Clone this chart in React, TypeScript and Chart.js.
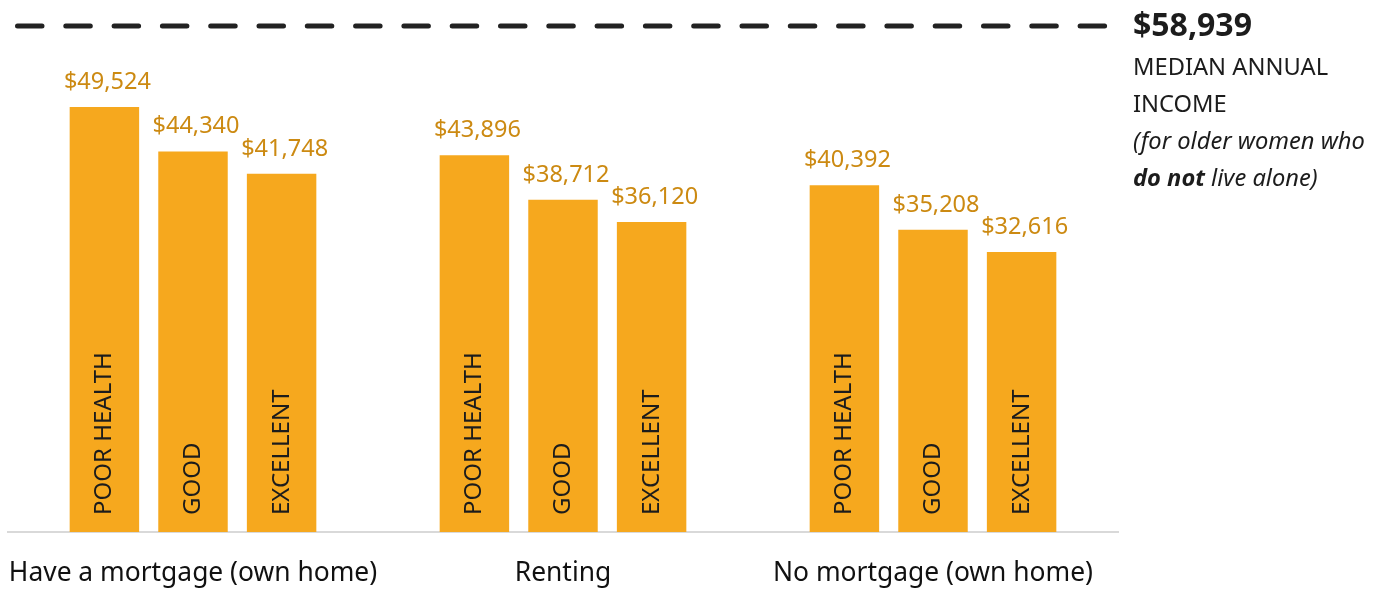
import React, { useEffect, useRef } from "react";
import { Chart, registerables } from "chart.js";

Chart.register(...registerables);

const categories = ["Have a mortgage (own home)", "Renting", "No mortgage (own home)"];
const healthLabels = ["POOR HEALTH", "GOOD", "EXCELLENT"];
const poorHealth = [49524, 43896, 40392];
const good = [44340, 38712, 35208];
const excellent = [41748, 36120, 32616];
const medianIncome = 58939;
const yMax = 60000;

const BAR_COLOR = "#F6A81E";
const VALUE_COLOR = "#CC8A12";
const TEXT_COLOR = "#1c1c1c";
const FONT = '"Noto Sans", sans-serif';

const fmt = (v: number) => "$" + v.toLocaleString("en-US");

const annotPlugin = {
  id: "annot",
  afterDatasetsDraw(chart: any) {
    const ctx = chart.ctx as CanvasRenderingContext2D;
    chart.data.datasets.forEach((ds: any, di: number) => {
      const meta = chart.getDatasetMeta(di);
      meta.data.forEach((bar: any, i: number) => {
        const { x, y, base } = bar.getProps(["x", "y", "base"], true);
        const v = ds.data[i] as number;
        ctx.save();
        ctx.font = `23.5px ${FONT}`;
        ctx.fillStyle = VALUE_COLOR;
        ctx.textAlign = "center";
        ctx.textBaseline = "alphabetic";
        ctx.fillText(fmt(v), x + 3, y - 18);
        ctx.restore();

        ctx.save();
        ctx.translate(x + 7, base - 17);
        ctx.rotate(-Math.PI / 2);
        ctx.font = `24px ${FONT}`;
        ctx.fillStyle = TEXT_COLOR;
        ctx.textAlign = "left";
        ctx.textBaseline = "alphabetic";
        ctx.fillText(healthLabels[di], 0, 0);
        ctx.restore();
      });
    });
  },
  afterDraw(chart: any) {
    const ctx = chart.ctx as CanvasRenderingContext2D;
    const yScale = chart.scales.y;
    const yLine = yScale.getPixelForValue(medianIncome);
    ctx.save();
    ctx.strokeStyle = "#222222";
    ctx.lineWidth = 5;
    ctx.lineCap = "round";
    ctx.setLineDash([24.5, 23.8]);
    ctx.beginPath();
    ctx.moveTo(17.5, yLine);
    ctx.lineTo(1106, yLine);
    ctx.stroke();
    ctx.restore();

    const tx = 1133;
    ctx.save();
    ctx.fillStyle = TEXT_COLOR;
    ctx.textAlign = "left";
    ctx.textBaseline = "alphabetic";
    ctx.font = `bold 32px ${FONT}`;
    ctx.fillText(fmt(medianIncome), tx, yLine + 10);
    ctx.font = `23.7px ${FONT}`;
    ctx.fillText("MEDIAN ANNUAL", tx, 75);
    ctx.fillText("INCOME", tx, 112);
    ctx.font = `italic 23.7px ${FONT}`;
    ctx.fillText("(for older women who", tx, 149);
    ctx.font = `italic bold 23.7px ${FONT}`;
    const boldPart = "do not";
    ctx.fillText(boldPart, tx, 186);
    const w = ctx.measureText(boldPart).width;
    ctx.font = `italic 23.7px ${FONT}`;
    ctx.fillText(" live alone)", tx + w, 186);
    ctx.restore();
  },
};

export default function App() {
  const canvasRef = useRef<HTMLCanvasElement | null>(null);

  useEffect(() => {
    if (!canvasRef.current) return;
    const series = [poorHealth, good, excellent];
    const chart = new Chart(canvasRef.current, {
      type: "bar",
      data: {
        labels: categories,
        datasets: series.map((data, i) => ({
          label: healthLabels[i],
          data,
          backgroundColor: BAR_COLOR,
          borderWidth: 0,
          categoryPercentage: 0.7184,
          barPercentage: 0.784,
        })),
      },
      options: {
        animation: false,
        responsive: false,
        devicePixelRatio: 1,
        layout: { padding: { left: 8, right: 266, top: 17, bottom: 0 } },
        plugins: {
          legend: { display: false },
          tooltip: { enabled: false },
          title: { display: false },
        },
        scales: {
          x: {
            grid: { display: false, drawTicks: false },
            border: { display: true, color: "#d9d9d9", width: 2 },
            ticks: {
              color: "#111111",
              font: { family: FONT, size: 26.4 },
              padding: 26,
              maxRotation: 0,
              autoSkip: false,
            },
            afterFit(scale: any) {
              scale.height = 58;
              scale.paddingLeft = 0;
              scale.paddingRight = 0;
            },
          },
          y: {
            display: false,
            min: 0,
            max: yMax,
          },
        },
      },
      plugins: [annotPlugin],
    });
    return () => chart.destroy();
  }, []);

  return (
    <div style={{ position: "absolute", left: 0, top: 0, width: 1384, height: 590, background: "#fff" }}>
      <canvas ref={canvasRef} width={1384} height={590} style={{ display: "block" }} />
    </div>
  );
}
